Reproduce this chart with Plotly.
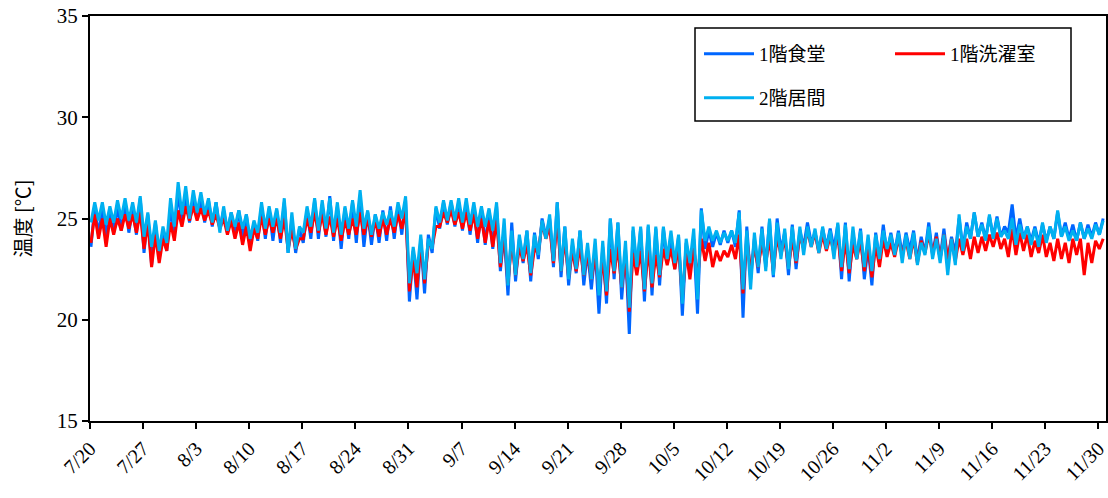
import datetime as dt
import plotly.graph_objects as go

# ---------------- data (daily low / high) ----------------
start_date = "2023-07-20"
series_names = ["1階食堂", "1階洗濯室", "2階居間"]
series_colors = ["#0066FF", "#FF0000", "#00B0F0"]

shokudo_lo = [23.6, 24.2, 24.1, 24.3, 24.4, 24.3, 24.2,
              23.3, 22.7, 23.0, 23.4, 24.2, 24.8, 24.8,
              25.0, 24.8, 24.6, 24.5, 24.3, 24.2, 24.0,
              23.6, 23.9, 24.0, 23.9, 23.8, 23.3, 23.3,
              23.8, 24.0, 24.0, 24.1, 23.9, 23.5, 24.0,
              23.8, 23.6, 23.7, 23.8, 23.9, 24.0, 24.2,
              20.9, 21.0, 21.3, 23.3, 24.5, 24.7, 24.6,
              24.4, 24.2, 23.8, 23.7, 23.5,
              22.4, 21.2, 21.9, 22.8, 21.9, 23.0, 24.1, 22.6, 22.1, 21.7, 22.3, 21.7, 21.5,
              20.3, 20.8, 22.0, 21.0, 19.3, 22.4, 20.9, 21.2, 21.7, 22.8, 22.5, 20.2, 22.5,
              20.3, 23.5, 23.6, 23.7, 23.8, 23.6, 20.1, 22.0, 22.3, 22.6, 22.1, 23.4, 22.2,
              22.5, 23.6, 23.8, 23.4, 23.6, 23.5, 22.0, 21.9, 23.0, 22.0, 21.7, 22.9, 23.2,
              23.3, 23.2, 23.4, 22.9, 23.3, 23.2, 23.0, 22.9, 23.3, 23.5, 24.0, 24.1, 24.0, 24.1,
              24.1, 24.3, 24.0, 24.0, 23.9, 23.8, 23.9, 24.0, 24.1, 24.0, 23.9, 24.0, 24.1, 24.2]
shokudo_hi = [25.6, 25.5, 25.4, 25.6, 25.8, 25.5, 26.0,
              25.2, 24.8, 24.4, 25.6, 26.3, 26.2, 26.0,
              26.0, 25.9, 25.8, 25.4, 25.3, 25.4, 25.2,
              24.8, 25.6, 25.5, 25.4, 25.8, 24.9, 24.5,
              25.4, 25.9, 25.7, 26.1, 25.6, 25.5, 25.8,
              26.0, 25.3, 25.2, 25.4, 25.6, 25.6, 25.9,
              23.4, 24.0, 24.2, 25.5, 25.8, 25.8, 25.8,
              25.8, 25.6, 25.5, 25.4, 25.6,
              24.3, 24.8, 24.0, 24.4, 24.3, 25.0, 25.0, 25.8, 24.6, 23.7, 24.4, 23.4, 23.5,
              23.6, 25.0, 24.8, 23.5, 24.4, 24.5, 24.6, 24.5, 24.5, 24.1, 24.1, 23.8, 24.0,
              25.5, 24.4, 24.3, 24.4, 24.4, 25.4, 24.6, 24.0, 24.6, 24.9, 25.0, 24.3, 24.7,
              24.4, 24.8, 24.3, 24.5, 24.5, 24.7, 24.8, 24.3, 24.5, 23.6, 24.3, 24.7, 24.3,
              24.4, 24.3, 24.4, 24.1, 24.8, 24.3, 24.5, 24.1, 25.0, 24.8, 25.3, 24.8, 25.1, 25.1,
              24.6, 25.7, 25.0, 24.6, 24.6, 24.7, 24.6, 25.3, 24.8, 24.7, 24.8, 24.7, 24.8, 25.0]

sentaku_lo = [23.8, 24.0, 23.6, 24.2, 24.4, 24.5, 24.3,
              23.5, 22.6, 22.8, 23.4, 23.9, 24.6, 24.9,
              24.9, 24.9, 24.7, 24.5, 24.2, 24.0, 23.7,
              23.4, 24.0, 24.2, 24.3, 24.0, 23.5, 23.5,
              24.0, 24.3, 24.3, 24.2, 24.1, 23.9, 24.2,
              24.2, 24.2, 24.1, 24.1, 24.2, 24.3, 24.5,
              21.4, 21.6, 21.8, 23.6, 24.6, 24.8, 24.7,
              24.5, 24.4, 24.0, 23.8, 23.6,
              22.6, 21.8, 22.2, 22.9, 22.2, 23.3, 24.0, 22.8, 22.4, 22.1, 22.4, 22.2, 22.0,
              21.5, 21.2, 22.3, 21.6, 20.4, 22.2, 21.4, 21.6, 22.1, 22.7, 22.5, 21.1, 22.0,
              22.0, 22.9, 22.6, 22.9, 23.1, 23.0, 21.3, 22.4, 22.6, 22.8, 22.4, 23.2, 22.6,
              22.8, 23.5, 23.6, 23.3, 23.4, 23.3, 22.4, 22.3, 23.0, 22.4, 22.1, 22.6, 23.1,
              23.1, 23.2, 23.0, 22.8, 23.3, 23.3, 23.0, 23.0, 22.9, 23.2, 23.0, 23.3, 23.4, 23.6,
              23.5, 23.1, 23.2, 23.4, 23.1, 23.3, 23.1, 22.9, 23.0, 22.8, 23.2, 22.2, 22.8, 23.5]
sentaku_hi = [25.2, 25.0, 25.0, 25.0, 25.2, 25.2, 25.3,
              24.8, 24.2, 24.0, 24.8, 25.4, 25.6, 25.6,
              25.5, 25.4, 25.2, 25.0, 24.9, 24.8, 24.6,
              24.5, 25.1, 25.0, 25.0, 25.0, 24.4, 24.0,
              25.0, 25.3, 25.2, 25.1, 25.0, 24.9, 25.0,
              25.3, 25.0, 24.9, 25.0, 25.0, 25.2, 25.4,
              23.0, 23.8, 23.8, 24.6, 25.3, 25.4, 25.3,
              25.3, 25.2, 25.0, 24.9, 24.9,
              24.3, 23.9, 23.6, 23.7, 23.5, 24.8, 24.6, 25.0, 24.0, 23.4, 23.6, 23.3, 23.2,
              23.0, 23.5, 23.6, 23.2, 23.3, 23.4, 23.5, 23.2, 23.5, 23.5, 23.6, 23.4, 23.6,
              24.0, 23.8, 23.4, 23.4, 23.7, 24.2, 24.0, 23.6, 23.8, 24.0, 24.1, 24.0, 24.0,
              24.2, 24.4, 24.3, 24.2, 24.1, 24.2, 23.9, 23.7, 23.9, 23.6, 23.7, 24.0, 23.8,
              24.0, 23.9, 24.0, 23.9, 24.2, 24.1, 24.2, 24.0, 24.0, 24.0, 24.1, 24.1, 24.2, 24.3,
              24.0, 24.5, 24.3, 24.2, 23.9, 24.2, 23.8, 24.0, 23.8, 24.0, 24.0, 23.8, 23.9, 24.0]

ima_lo = [24.8, 24.9, 24.7, 24.8, 25.0, 24.9, 24.8,
          24.1, 23.6, 23.4, 23.8, 24.6, 25.2, 25.0,
          25.3, 25.2, 24.8, 24.3, 24.4, 24.6, 24.5,
          24.0, 24.3, 24.5, 24.6, 24.3, 23.3, 23.5,
          24.3, 24.6, 24.4, 24.5, 24.3, 24.2, 24.5,
          24.6, 24.5, 24.2, 24.5, 24.7, 24.6, 25.0,
          21.8, 22.3, 22.0, 23.5, 24.8, 24.9, 24.9,
          24.8, 24.7, 24.6, 24.6, 24.4,
          22.8, 21.7, 22.2, 23.0, 22.3, 23.2, 24.0, 22.9, 22.4, 22.0, 22.5, 22.2, 22.0,
          21.2, 21.4, 22.4, 21.6, 20.6, 22.6, 21.5, 21.8, 22.2, 23.0, 22.8, 20.8, 22.8,
          21.0, 23.9, 23.9, 23.8, 23.9, 23.8, 21.5, 21.5, 22.6, 22.4, 22.2, 23.0, 22.5,
          22.9, 23.2, 23.6, 23.3, 23.5, 23.0, 22.6, 22.5, 23.0, 22.6, 22.4, 23.0, 23.5,
          23.2, 22.8, 23.0, 22.7, 23.2, 23.0, 22.8, 22.2, 22.7, 23.4, 24.0, 24.1, 23.9, 24.0,
          24.1, 24.0, 23.7, 24.0, 23.7, 23.6, 23.8, 24.0, 24.1, 23.9, 23.9, 24.0, 24.0, 24.2]
ima_hi = [25.8, 25.8, 25.6, 25.9, 26.0, 25.8, 26.1,
          25.3, 24.9, 24.6, 26.0, 26.8, 26.6, 26.4,
          26.3, 26.0, 25.8, 25.6, 25.3, 25.4, 25.2,
          24.9, 25.8, 25.6, 25.5, 26.0, 25.3, 24.6,
          25.6, 26.0, 25.9, 26.0, 25.8, 25.6, 25.9,
          26.4, 25.4, 25.2, 25.3, 25.4, 25.8, 26.1,
          23.6, 24.2, 24.0, 25.6, 25.9, 25.9, 26.0,
          26.0, 25.8, 25.6, 25.5, 25.8,
          25.0, 24.4, 24.2, 24.4, 24.2, 24.9, 25.2, 25.8, 24.6, 24.0, 24.4, 23.8, 24.0,
          23.9, 25.0, 24.8, 23.9, 24.6, 24.6, 24.7, 24.6, 24.6, 24.4, 24.2, 24.0, 24.5,
          25.4, 24.6, 24.4, 24.3, 24.4, 25.3, 24.4, 24.3, 24.5, 25.0, 24.8, 24.5, 24.6,
          24.6, 24.6, 24.5, 24.6, 24.4, 24.8, 24.7, 24.6, 24.4, 24.2, 24.2, 24.4, 24.2,
          24.3, 24.2, 24.3, 23.8, 24.6, 24.0, 24.2, 24.0, 25.2, 24.6, 25.3, 24.7, 25.2, 25.0,
          24.4, 25.0, 24.7, 24.6, 24.5, 24.8, 24.6, 25.4, 24.6, 24.4, 24.8, 24.5, 24.7, 24.9]

tick_dates = ["2023-07-20", "2023-07-27", "2023-08-03", "2023-08-10", "2023-08-17",
              "2023-08-24", "2023-08-31", "2023-09-07", "2023-09-14", "2023-09-21",
              "2023-09-28", "2023-10-05", "2023-10-12", "2023-10-19", "2023-10-26",
              "2023-11-02", "2023-11-09", "2023-11-16", "2023-11-23", "2023-11-30"]
tick_labels = ["7/20", "7/27", "8/3", "8/10", "8/17", "8/24", "8/31", "9/7", "9/14",
               "9/21", "9/28", "10/5", "10/12", "10/19", "10/26", "11/2", "11/9",
               "11/16", "11/23", "11/30"]
y_ticks = [15, 20, 25, 30, 35]

# ---------------- build ----------------
lows = [shokudo_lo, sentaku_lo, ima_lo]
highs = [shokudo_hi, sentaku_hi, ima_hi]
for a in lows + highs:
    assert len(a) == 134, len(a)

t0 = dt.datetime.fromisoformat(start_date)
times = []
for d in range(134):
    times.append(t0 + dt.timedelta(days=d, hours=3))
    times.append(t0 + dt.timedelta(days=d, hours=15))

SERIF = "Liberation Serif, Noto Sans CJK JP, serif"

# plot area in pixels (for placing the legend box)
L, R, T, B = 90, 1106, 16, 421
PW, PH = R - L, B - T

def px_x(x):
    return (x - L) / PW

def px_y(y):
    return (B - y) / PH

legend_ids = ["legend", "legend", "legend2"]

fig = go.Figure()
for name, color, lo, hi, lg in zip(series_names, series_colors, lows, highs, legend_ids):
    vals = []
    for a, b in zip(lo, hi):
        vals.extend([a, b])
    fig.add_trace(go.Scatter(x=times, y=vals, mode="lines", name=name, legend=lg,
                             line=dict(color=color, width=3)))

fig.add_shape(type="rect", xref="paper", yref="paper",
              x0=px_x(695), x1=px_x(1071), y0=px_y(121), y1=px_y(28),
              line=dict(color="black", width=1.5), fillcolor="white", layer="above")

leg_common = dict(
    xanchor="left", yanchor="middle",
    orientation="h", entrywidth=126, entrywidthmode="pixels",
    itemwidth=50,
    bgcolor="rgba(0,0,0,0)", borderwidth=0,
    font=dict(family=SERIF, size=19, color="black"),
)

fig.update_layout(
    width=1108, height=498,
    margin=dict(l=L, r=1108 - R, t=T, b=498 - B, autoexpand=False),
    paper_bgcolor="white", plot_bgcolor="white",
    showlegend=True,
    legend=dict(x=px_x(699), y=px_y(54), **leg_common),
    legend2=dict(x=px_x(699), y=px_y(98), **leg_common),
    font=dict(family=SERIF, color="black"),
)
fig.update_xaxes(
    type="date",
    range=["2023-07-20", "2023-12-01"],
    tickvals=tick_dates, ticktext=tick_labels, tickangle=-45,
    ticklabeloverflow="allow",
    ticks="outside", ticklen=6, tickwidth=2, tickcolor="black",
    showline=True, linecolor="black", linewidth=2, mirror=True,
    showgrid=False, zeroline=False,
    tickfont=dict(family=SERIF, size=20, color="black"),
)
fig.update_yaxes(
    range=[15, 35], tickvals=y_ticks,
    ticks="outside", ticklen=6, tickwidth=2, tickcolor="black",
    showline=True, linecolor="black", linewidth=2, mirror=True,
    showgrid=False, zeroline=False,
    tickfont=dict(family=SERIF, size=21, color="black"),
    title=dict(text="温度 [℃]", font=dict(family="Noto Sans CJK JP, sans-serif", size=20, color="black"),
               standoff=20),
)

fig.write_html("out.html")
